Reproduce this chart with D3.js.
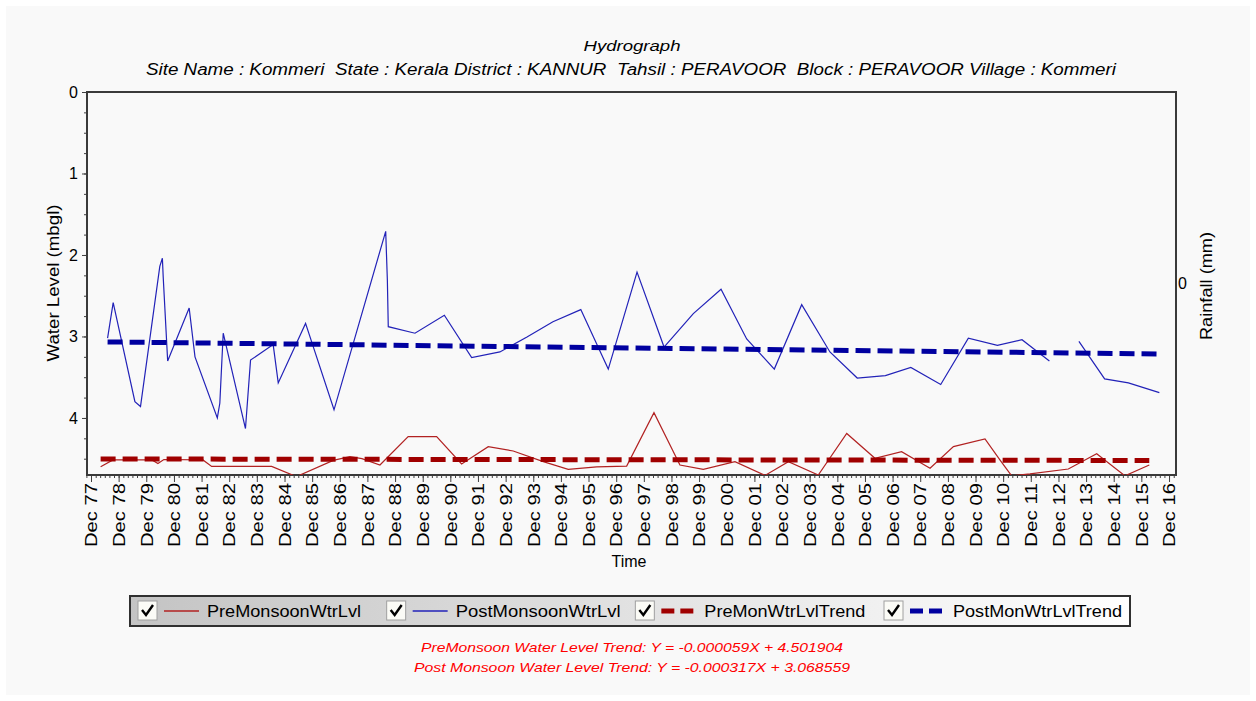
<!DOCTYPE html>
<html>
<head>
<meta charset="utf-8">
<script src="https://cdn.jsdelivr.net/npm/d3@7"></script>
<style>
body { margin: 0; background: #ffffff; font-family: "Liberation Sans", Arial, sans-serif; }
</style>
</head>
<body>
<svg id="chart" width="1256" height="701"></svg>
<script>
// pre monsoon water level (mbgl)
const preDates = ["1978-04-07", "1978-09-17", "1980-02-15", "1980-05-03", "1980-07-21", "1981-12-19", "1982-04-13",
    "1984-06-14", "1985-05-07", "1986-09-06", "1987-04-14", "1987-09-20", "1988-05-15", "1989-05-23", "1990-06-03",
    "1991-04-29", "1992-04-15", "1993-03-11", "1994-04-12", "1995-03-08", "1996-03-18", "1997-04-18", "1998-04-14",
    "1999-03-23", "2000-01-26", "2001-03-19", "2002-04-20", "2003-02-23", "2004-03-24", "2005-04-04", "2006-04-12",
    "2007-03-30", "2008-04-09", "2009-02-12", "2010-04-05", "2010-10-19", "2011-03-23", "2011-11-21", "2013-04-10",
    "2014-04-20", "2015-04-28", "2016-03-15"]
const preValues = [4.60, 4.515, 4.515, 4.56, 4.51, 4.515, 4.595,
    4.595, 4.72, 4.52, 4.475, 4.50, 4.577, 4.23, 4.23,
    4.564, 4.352, 4.405, 4.536, 4.63, 4.60, 4.59, 3.935,
    4.577, 4.63, 4.536, 4.705, 4.536, 4.70, 4.19, 4.495,
    4.414, 4.617, 4.352, 4.258, 4.515, 4.71, 4.687, 4.626,
    4.44, 4.71, 4.577]

// post monsoon water level (mbgl), null = no reading
const postDates = ["1978-07-08", "1978-09-20", "1979-07-04", "1979-09-16", "1980-05-28", "1980-07-01", "1980-07-12",
    "1980-09-09", "1981-06-20", "1981-09-05", "1982-06-27", "1982-07-30", "1982-09-13", "1983-07-04", "1983-09-09",
    "1984-07-04", "1984-09-09", "1985-09-05", "1986-09-16", "1988-07-30", "1988-08-21", "1988-09-02", "1989-08-21",
    "1990-09-13", "1991-09-09", "1992-09-16", "1993-09-09", "1994-08-18", "1995-08-21", "1996-08-18", "1997-09-02",
    "1998-08-25", "1999-09-16", "2000-09-16", "2001-08-21", "2002-08-21", "2003-08-18", "2004-08-25", "2005-08-21",
    "2006-08-28", "2007-07-30", "2008-08-28", "2009-08-28", "2010-09-16", "2011-08-07", "2012-08-03", "2013-01-15",
    "2013-08-28", "2014-08-03", "2015-06-13", "2016-07-26"]
const postValues = [3.02, 2.585, 3.80, 3.86, 2.14, 2.04, 2.27,
    3.30, 2.65, 3.25, 4.00, 3.82, 2.96, 4.13, 3.29,
    3.10, 3.57, 2.84, 3.90, 1.71, 2.31, 2.88, 2.96,
    2.74, 3.26, 3.19, 3.006, 2.82, 2.67, 3.40, 2.21,
    3.13, 2.72, 2.42, 3.03, 3.40, 2.61, 3.19, 3.51,
    3.48, 3.38, 3.59, 3.02, 3.11, 3.04, 3.30, null,
    3.06, 3.52, 3.57, 3.69]

// trend lines, end points
const preTrendDates = ["1978-04-07", "2016-03-15"]
const preTrendValues = [4.503, 4.522]
const postTrendDates = ["1978-07-08", "2016-07-26"]
const postTrendValues = [3.067, 3.215]

const yTicks = [0, 1, 2, 3, 4]
const tickYears = d3.range(1977, 2017)
const legendNames = ["PreMonsoonWtrLvl", "PostMonsoonWtrLvl", "PreMonWtrLvlTrend", "PostMonWtrLvlTrend"]
const trendTexts = ["PreMonsoon Water Level Trend: Y = -0.000059X + 4.501904",
    "Post Monsoon Water Level Trend: Y = -0.000317X + 3.068559"]

const parse = d3.timeParse("%Y-%m-%d")
const zip = (dates, values) => dates.map((d, i) => ({ date: parse(d), value: values[i] }))

const pre = zip(preDates, preValues)
const post = zip(postDates, postValues)
const preTrend = zip(preTrendDates, preTrendValues)
const postTrend = zip(postTrendDates, postTrendValues)

const plotLeft = 87, plotRight = 1176, plotTop = 92, plotBottom = 475

const svg = d3.select('#chart')

svg.append('rect')
    .attr('x', 6).attr('y', 6).attr('width', 1244).attr('height', 689)
    .attr('fill', '#f9f9f9')

const x = d3.scaleTime()
    .domain([new Date(1977, 9, 9), new Date(2017, 2, 3)])
    .range([plotLeft, plotRight])

const y = d3.scaleLinear()
    .domain([0, 4.7])
    .range([plotTop, plotBottom])

svg.append('clipPath').attr('id', 'clip')
    .append('rect')
    .attr('x', plotLeft).attr('y', plotTop).attr('width', plotRight - plotLeft).attr('height', plotBottom - plotTop)

// minor ticks
svg.append('g')
    .attr('transform', `translate(${plotLeft},0)`)
    .call(d3.axisLeft(y).tickValues(d3.range(0, 4.71, 0.25)).tickSize(3).tickFormat(''))
    .call(g => g.select('.domain').remove())
    .call(g => g.selectAll('line').attr('stroke', '#404040'))

svg.append('g')
    .attr('transform', `translate(0,${plotBottom})`)
    .call(d3.axisBottom(x).tickValues(d3.timeMonths(new Date(1977, 9, 1), new Date(2017, 2, 1)).filter(d => d.getMonth() % 2 === 1)).tickSize(3).tickFormat(''))
    .call(g => g.select('.domain').remove())
    .call(g => g.selectAll('line').attr('stroke', '#404040'))

// main axes
svg.append('g')
    .attr('transform', `translate(${plotLeft},0)`)
    .call(d3.axisLeft(y).tickValues(yTicks).tickSize(5).tickPadding(4).tickFormat(d3.format('d')))
    .call(g => g.select('.domain').remove())
    .call(g => g.selectAll('line').attr('stroke', '#404040'))
    .call(g => g.selectAll('text').attr('font-size', 16).attr('font-family', '"Liberation Sans", Arial, sans-serif').attr('fill', '#000'))

svg.append('g')
    .attr('transform', `translate(0,${plotBottom})`)
    .call(d3.axisBottom(x).tickValues(tickYears.map(yr => new Date(yr, 11, 1))).tickSize(7).tickFormat(d3.timeFormat('%b %y')))
    .call(g => g.select('.domain').remove())
    .call(g => g.selectAll('line').attr('stroke', '#404040'))
    .call(g => g.selectAll('text')
        .attr('transform', 'rotate(-90)')
        .attr('text-anchor', 'end')
        .attr('x', -8)
        .attr('y', 0)
        .attr('dy', '0.36em')
        .attr('font-size', 16)
        .attr('font-family', '"Liberation Sans", Arial, sans-serif')
        .attr('fill', '#000')
        .attr('textLength', 64)
        .attr('lengthAdjust', 'spacingAndGlyphs'))

// plot frame
svg.append('rect')
    .attr('x', plotLeft).attr('y', plotTop).attr('width', plotRight - plotLeft).attr('height', plotBottom - plotTop)
    .attr('fill', 'none')
    .attr('stroke', '#3a3a3a')
    .attr('stroke-width', 2)

const line = d3.line()
    .defined(d => d.value != null)
    .x(d => x(d.date))
    .y(d => y(d.value))

const plot = svg.append('g').attr('clip-path', 'url(#clip)')

plot.append('path')
    .datum(pre)
    .attr('d', line)
    .attr('fill', 'none')
    .attr('stroke', '#b22222')
    .attr('stroke-width', 1.2)

plot.append('path')
    .datum(post)
    .attr('d', line)
    .attr('fill', 'none')
    .attr('stroke', '#2222b8')
    .attr('stroke-width', 1.2)

plot.append('path')
    .datum(preTrend)
    .attr('d', line)
    .attr('fill', 'none')
    .attr('stroke', '#a00000')
    .attr('stroke-width', 5)
    .attr('stroke-dasharray', '15,7')

plot.append('path')
    .datum(postTrend)
    .attr('d', line)
    .attr('fill', 'none')
    .attr('stroke', '#0000a0')
    .attr('stroke-width', 5)
    .attr('stroke-dasharray', '15,7')

// right axis (rainfall, empty)
svg.append('text')
    .attr('x', 1178).attr('y', 283).attr('dy', '0.36em')
    .attr('font-size', 16)
    .text('0')

svg.append('text')
    .attr('transform', 'translate(1212,286) rotate(-90)')
    .attr('text-anchor', 'middle')
    .attr('font-size', 16)
    .attr('textLength', 108)
    .attr('lengthAdjust', 'spacingAndGlyphs')
    .text('Rainfall (mm)')

svg.append('text')
    .attr('transform', 'translate(59,283) rotate(-90)')
    .attr('text-anchor', 'middle')
    .attr('font-size', 16)
    .attr('textLength', 157)
    .attr('lengthAdjust', 'spacingAndGlyphs')
    .text('Water Level (mbgl)')

svg.append('text')
    .attr('x', 629).attr('y', 567)
    .attr('text-anchor', 'middle')
    .attr('font-size', 16)
    .text('Time')

// titles
svg.append('text')
    .attr('x', 632).attr('y', 51)
    .attr('text-anchor', 'middle')
    .attr('font-size', 15)
    .attr('font-style', 'italic')
    .attr('textLength', 97)
    .attr('lengthAdjust', 'spacingAndGlyphs')
    .text('Hydrograph')

svg.append('text')
    .attr('x', 631).attr('y', 75)
    .attr('text-anchor', 'middle')
    .attr('font-size', 16)
    .attr('font-style', 'italic')
    .style('white-space', 'pre')
    .attr('textLength', 970)
    .attr('lengthAdjust', 'spacingAndGlyphs')
    .text('Site Name : Kommeri  State : Kerala District : KANNUR  Tahsil : PERAVOOR  Block : PERAVOOR Village : Kommeri')

// legend
const grad = svg.append('defs').append('linearGradient').attr('id', 'legendGrad')
grad.append('stop').attr('offset', '0%').attr('stop-color', '#c4c4c4')
grad.append('stop').attr('offset', '100%').attr('stop-color', '#ffffff')

svg.append('rect')
    .attr('x', 130).attr('y', 596).attr('width', 1000).attr('height', 30)
    .attr('fill', 'url(#legendGrad)')
    .attr('stroke', '#303030')
    .attr('stroke-width', 2)

const legendX = d3.scalePoint().domain(legendNames).range([138, 884])
const legendColors = ['#b22222', '#2222b8', '#a00000', '#0000a0']
const legendWidths = [154, 165, 161, 169]

const item = svg.selectAll('.legend-item')
    .data(legendNames)
    .join('g')
    .attr('class', 'legend-item')
    .attr('transform', d => `translate(${legendX(d)},601)`)

item.append('rect')
    .attr('width', 19).attr('height', 19)
    .attr('fill', '#fbfbf6')
    .attr('stroke', '#a0a0a0')

item.append('path')
    .attr('d', 'M4,9 L8,14 L15,4')
    .attr('fill', 'none')
    .attr('stroke', '#000')
    .attr('stroke-width', 2.4)

item.append('line')
    .attr('x1', 26).attr('x2', 61).attr('y1', 10).attr('y2', 10)
    .attr('stroke', (d, i) => legendColors[i])
    .attr('stroke-width', (d, i) => i < 2 ? 1.3 : 5)
    .attr('stroke-dasharray', (d, i) => i < 2 ? null : '13,6')

item.append('text')
    .attr('x', 69).attr('y', 10).attr('dy', '0.36em')
    .attr('font-size', 16)
    .attr('textLength', (d, i) => legendWidths[i])
    .attr('lengthAdjust', 'spacingAndGlyphs')
    .text(d => d)

svg.selectAll('.trend-text')
    .data(trendTexts)
    .join('text')
    .attr('class', 'trend-text')
    .attr('x', 632)
    .attr('y', (d, i) => 652 + i * 20)
    .attr('text-anchor', 'middle')
    .attr('font-size', 13)
    .attr('font-style', 'italic')
    .attr('fill', '#ff0000')
    .attr('textLength', (d, i) => i === 0 ? 422 : 436)
    .attr('lengthAdjust', 'spacingAndGlyphs')
    .text(d => d)
</script>
</body>
</html>
